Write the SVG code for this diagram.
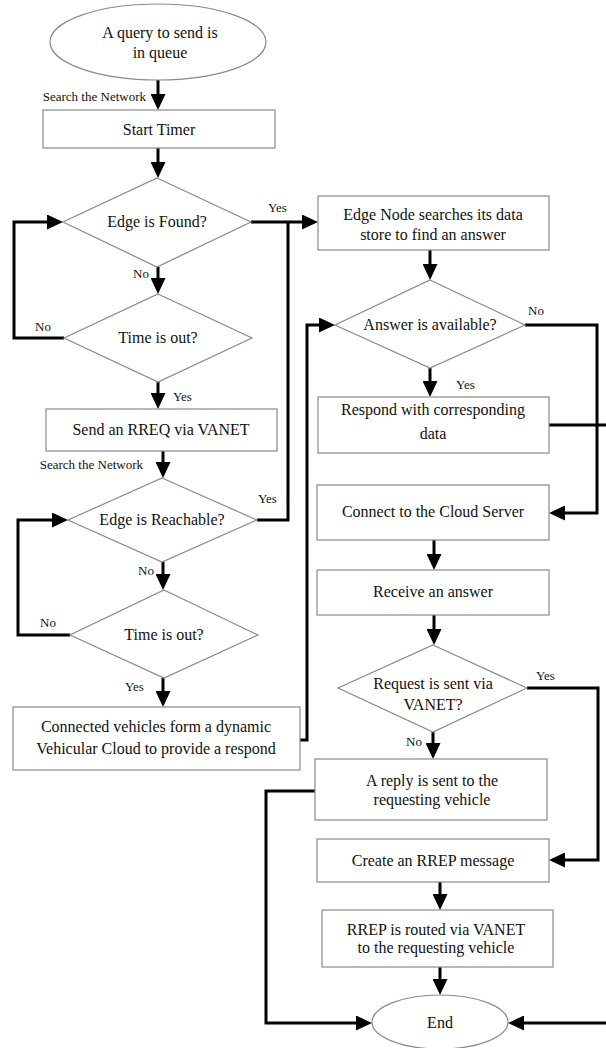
<svg xmlns="http://www.w3.org/2000/svg" width="606" height="1048" viewBox="0 0 606 1048">
<style>
.shape{fill:#fff;stroke:#8a8a8a;stroke-width:1.2}
.t{font-family:'Liberation Serif','DejaVu Serif',serif;font-size:16px;fill:#111;text-anchor:middle}
.lbl{font-family:'Liberation Serif','DejaVu Serif',serif;font-size:13px;fill:#111}
.conn{fill:none;stroke:#000;stroke-width:3;stroke-linejoin:miter}
.arr{marker-end:url(#ah)}
</style>
<defs>
<marker id="ah" viewBox="0 0 16 15" refX="10" refY="7.5" markerWidth="16" markerHeight="15" markerUnits="userSpaceOnUse" orient="auto">
<path d="M0,0 L16,7.5 L0,15 z" fill="#000"/>
</marker>
</defs>
<rect width="606" height="1048" fill="#fff"/>

<g id="connectors">
<path class="conn arr" d="M158,80 V104"/>
<path class="conn arr" d="M158,148 V172"/>
<path class="conn arr" d="M158,267 V288"/>
<path class="conn arr" d="M64,338 H14 V222 H57"/>
<path class="conn arr" d="M158,382 V403"/>
<path class="conn arr" d="M251,222 H312"/>
<path class="conn arr" d="M163,451 V472"/>
<path class="conn" d="M257,520 H288 V222"/>
<path class="conn arr" d="M163,562 V584"/>
<path class="conn arr" d="M70,635 H18 V520 H62"/>
<path class="conn arr" d="M163,678 V701"/>
<path class="conn arr" d="M300,740 H307 V325 H329"/>
<path class="conn arr" d="M430,250 V274"/>
<path class="conn arr" d="M430,368 V391"/>
<path class="conn arr" d="M525,325 H597 V513 H555"/>
<path class="conn" d="M549,425 H606"/>
<path class="conn arr" d="M434,540 V564"/>
<path class="conn arr" d="M434,615 V639"/>
<path class="conn arr" d="M527,688 H598 V860 H555"/>
<path class="conn arr" d="M433,732 V753"/>
<path class="conn arr" d="M315,791 H266 V1023 H366"/>
<path class="conn arr" d="M440,882 V904"/>
<path class="conn arr" d="M440,967 V989"/>
<path class="conn arr" d="M606,1023 H514"/>
<text class="lbl" x="146" y="101" text-anchor="end">Search the Network</text>
<text class="lbl" x="133" y="278">No</text>
<text class="lbl" x="35" y="331">No</text>
<text class="lbl" x="173" y="401">Yes</text>
<text class="lbl" x="268" y="212">Yes</text>
<text class="lbl" x="143" y="469" text-anchor="end">Search the Network</text>
<text class="lbl" x="258" y="503">Yes</text>
<text class="lbl" x="138" y="575">No</text>
<text class="lbl" x="40" y="627">No</text>
<text class="lbl" x="125" y="691">Yes</text>
<text class="lbl" x="456" y="389">Yes</text>
<text class="lbl" x="528" y="315">No</text>
<text class="lbl" x="536" y="680">Yes</text>
<text class="lbl" x="406" y="746">No</text>
</g>

<g id="start">
<ellipse class="shape" cx="158" cy="42" rx="108" ry="38"/>
<text class="t" x="160" y="38">A query to send is</text>
<text class="t" x="160" y="58">in queue</text>
</g>
<g id="start-timer">
<rect class="shape" x="43" y="110" width="232" height="38"/>
<text class="t" x="159" y="135">Start Timer</text>
</g>
<g id="edge-found">
<polygon class="shape" points="157,178 251,222 157,267 63,222"/>
<text class="t" x="157" y="227">Edge is Found?</text>
</g>
<g id="timeout1">
<polygon class="shape" points="158,294 252,338 158,382 64,338"/>
<text class="t" x="158" y="343">Time is out?</text>
</g>
<g id="send-rreq">
<rect class="shape" x="46" y="409" width="231" height="42"/>
<text class="t" x="161" y="435">Send an RREQ via VANET</text>
</g>
<g id="edge-reachable">
<polygon class="shape" points="162,478 257,520 162,562 68,520"/>
<text class="t" x="162" y="525">Edge is Reachable?</text>
</g>
<g id="timeout2">
<polygon class="shape" points="164,590 258,635 164,678 70,635"/>
<text class="t" x="164" y="640">Time is out?</text>
</g>
<g id="vehicular-cloud">
<rect class="shape" x="13" y="707" width="287" height="63"/>
<text class="t" x="156" y="732">Connected vehicles form a dynamic</text>
<text class="t" x="156" y="754">Vehicular Cloud to provide a respond</text>
</g>
<g id="edge-search">
<rect class="shape" x="318" y="196" width="231" height="54"/>
<text class="t" x="433" y="220">Edge Node searches its data</text>
<text class="t" x="433" y="240">store to find an answer</text>
</g>
<g id="answer-available">
<polygon class="shape" points="430,280 525,325 430,368 335,325"/>
<text class="t" x="430" y="330">Answer is available?</text>
</g>
<g id="respond">
<rect class="shape" x="318" y="397" width="231" height="56"/>
<text class="t" x="433" y="415">Respond with corresponding</text>
<text class="t" x="433" y="439">data</text>
</g>
<g id="cloud-server">
<rect class="shape" x="317" y="485" width="232" height="55"/>
<text class="t" x="433" y="517">Connect to the Cloud Server</text>
</g>
<g id="receive">
<rect class="shape" x="317" y="570" width="232" height="45"/>
<text class="t" x="433" y="597">Receive an answer</text>
</g>
<g id="request-vanet">
<polygon class="shape" points="433,645 527,688 433,732 338,688"/>
<text class="t" x="433" y="689">Request is sent via</text>
<text class="t" x="433" y="710">VANET?</text>
</g>
<g id="reply">
<rect class="shape" x="315" y="759" width="232" height="61"/>
<text class="t" x="432" y="786">A reply is sent to the</text>
<text class="t" x="432" y="805">requesting vehicle</text>
</g>
<g id="create-rrep">
<rect class="shape" x="317" y="839" width="232" height="43"/>
<text class="t" x="433" y="866">Create an RREP message</text>
</g>
<g id="rrep-routed">
<rect class="shape" x="322" y="910" width="231" height="57"/>
<text class="t" x="436" y="935">RREP is routed via VANET</text>
<text class="t" x="436" y="953">to the requesting vehicle</text>
</g>
<g id="end">
<ellipse class="shape" cx="440" cy="1022" rx="68" ry="27"/>
<text class="t" x="440" y="1028">End</text>
</g>
</svg>
